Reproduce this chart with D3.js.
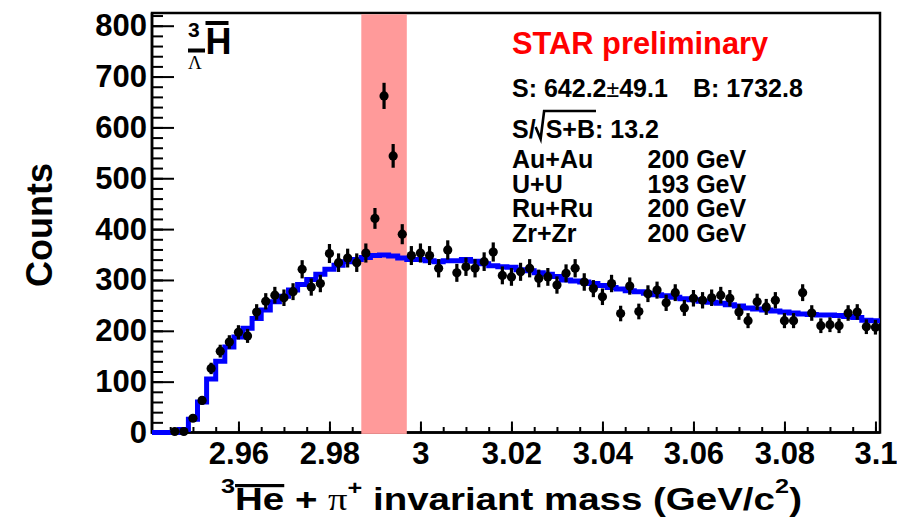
<!DOCTYPE html>
<html>
<head>
<meta charset="utf-8">
<script src="https://cdn.jsdelivr.net/npm/d3@7"></script>
<style>
  html, body { margin: 0; padding: 0; background: #fff; }
  svg { display: block; font-family: "Liberation Sans", Arial, Helvetica, sans-serif; }
  svg text { white-space: pre; }
</style>
</head>
<body>
<svg id="chart" width="897" height="517"></svg>
<script>
// ---- histogram: anti-hypertriton candidates, 2 MeV/c^2 bins ----
const histLow = 2.941, histHigh = 3.101;
const binCenters = [
  2.942, 2.944, 2.946, 2.948, 2.950, 2.952, 2.954, 2.956, 2.958, 2.960,
  2.962, 2.964, 2.966, 2.968, 2.970, 2.972, 2.974, 2.976, 2.978, 2.980,
  2.982, 2.984, 2.986, 2.988, 2.990, 2.992, 2.994, 2.996, 2.998, 3.000,
  3.002, 3.004, 3.006, 3.008, 3.010, 3.012, 3.014, 3.016, 3.018, 3.020,
  3.022, 3.024, 3.026, 3.028, 3.030, 3.032, 3.034, 3.036, 3.038, 3.040,
  3.042, 3.044, 3.046, 3.048, 3.050, 3.052, 3.054, 3.056, 3.058, 3.060,
  3.062, 3.064, 3.066, 3.068, 3.070, 3.072, 3.074, 3.076, 3.078, 3.080,
  3.082, 3.084, 3.086, 3.088, 3.090, 3.092, 3.094, 3.096, 3.098, 3.100
];
const binWidth = 0.002;

// same-event counts
const counts = [
  0, 0, 2, 2, 28, 63, 126, 160, 178, 197,
  190, 237, 258, 270, 265, 277, 321, 286, 293, 352,
  334, 343, 334, 353, 421, 662, 544, 390, 348, 353,
  348, 323, 359, 314, 326, 323, 336, 355, 309, 306,
  316, 323, 303, 306, 290, 313, 323, 296, 283, 267,
  293, 234, 288, 238, 273, 280, 255, 275, 245, 264,
  260, 265, 270, 264, 237, 220, 257, 247, 260, 220,
  220, 275, 235, 210, 212, 210, 235, 237, 208, 207
];

// normalised combinatorial background
const background = [
  0, 0, 0, 6, 26, 60, 105, 140, 168, 188,
  205, 224, 241, 257, 268, 280, 291, 301, 311, 321,
  329, 336, 340, 344, 348, 349, 347, 343, 340, 340,
  338, 336, 338, 338, 340, 337, 332, 328, 326, 325,
  320, 318, 314, 311, 307, 300, 298, 296, 293, 289,
  285, 282, 279, 277, 274, 271, 269, 266, 263, 261,
  258, 256, 254, 251, 249, 245, 243, 241, 239, 237,
  235, 233, 232, 231, 231, 230, 228, 226, 221, 220
];

// signal integration window
const signalWindow = [2.987, 2.997];

// axis ticks
const yTicks = [0, 100, 200, 300, 400, 500, 600, 700, 800];
const yTickLabels = ["0", "100", "200", "300", "400", "500", "600", "700", "800"];
const xTicks = [2.96, 2.98, 3.00, 3.02, 3.04, 3.06, 3.08, 3.10];
const xTickLabels = ["2.96", "2.98", "3", "3.02", "3.04", "3.06", "3.08", "3.1"];
const yMax = 825;

// annotation text
const signalText = "642.2", signalErr = "49.1", bkgText = "1732.8", signifText = "13.2";
const systems = ["Au+Au", "U+U", "Ru+Ru", "Zr+Zr"];
const energies = ["200 GeV", "193 GeV", "200 GeV", "200 GeV"];

// ---- layout ----
const svg = d3.select("#chart");
const frame = { left: 152, right: 880, top: 13, bottom: 432.5 };

const x = d3.scaleLinear().domain([histLow, histHigh]).range([frame.left, frame.right]);
const y = d3.scaleLinear().domain([0, yMax]).range([frame.bottom, frame.top]);

// frame box
svg.append("rect")
  .attr("x", frame.left).attr("y", frame.top)
  .attr("width", frame.right - frame.left).attr("height", frame.bottom - frame.top)
  .attr("fill", "none").attr("stroke", "#000").attr("stroke-width", 2.5);

function styleAxis(sel, size) {
  sel.attr("font-family", null).attr("font-size", null);
  sel.select(".domain").remove();
  sel.selectAll("line").attr("stroke", "#000").attr("stroke-width", 2);
  sel.selectAll("text").attr("fill", "#000")
    .style("font-size", size + "px").style("font-weight", "bold");
}

// y axis: major + minor ticks pointing inward
svg.append("g").attr("transform", `translate(${frame.left},0)`)
  .call(d3.axisLeft(y).tickValues(d3.range(0, 821, 20)).tickSizeInner(-11).tickSizeOuter(0).tickFormat(""))
  .call(s => styleAxis(s, 31));
svg.append("g").attr("transform", `translate(${frame.left},0)`)
  .call(d3.axisLeft(y).tickValues(yTicks).tickSizeInner(-22).tickSizeOuter(0).tickPadding(5)
    .tickFormat((d, i) => yTickLabels[i]))
  .call(s => styleAxis(s, 31));

// x axis
svg.append("g").attr("transform", `translate(0,${frame.bottom})`)
  .call(d3.axisBottom(x).tickValues(d3.range(2.945, 3.1001, 0.005)).tickSizeInner(-5.5).tickSizeOuter(0).tickFormat(""))
  .call(s => styleAxis(s, 31));
svg.append("g").attr("transform", `translate(0,${frame.bottom})`)
  .call(d3.axisBottom(x).tickValues(xTicks).tickSizeInner(-11).tickSizeOuter(0).tickPadding(9)
    .tickFormat((d, i) => xTickLabels[i]))
  .call(s => styleAxis(s, 31));

// axis line overlay (left + bottom)
svg.append("path")
  .attr("d", `M${frame.left},${frame.top}V${frame.bottom}H${frame.right}`)
  .attr("fill", "none").attr("stroke", "#000").attr("stroke-width", 2.5);

// signal window band
svg.append("rect")
  .attr("x", x(signalWindow[0])).attr("width", x(signalWindow[1]) - x(signalWindow[0]))
  .attr("y", frame.top + 1.3).attr("height", frame.bottom + 1.4 - frame.top - 1.3)
  .attr("fill", "#ff9a9a");

// background histogram as steps
const stepPts = binCenters.map((c, i) => [c - binWidth / 2, background[i]]);
stepPts.push([binCenters[binCenters.length - 1] + binWidth / 2, background[background.length - 1]]);
svg.append("path")
  .attr("d", d3.line().x(d => x(d[0])).y(d => y(d[1])).curve(d3.curveStepAfter)(stepPts))
  .attr("fill", "none").attr("stroke", "#0000ff").attr("stroke-width", 5);

// data points with sqrt(N) errors
const pts = binCenters.map((c, i) => ({ c, n: counts[i] })).filter(d => d.n > 0);
const gp = svg.append("g");
gp.selectAll("line.err").data(pts).join("line")
  .attr("x1", d => x(d.c)).attr("x2", d => x(d.c))
  .attr("y1", d => y(d.n + Math.sqrt(d.n))).attr("y2", d => y(Math.max(0, d.n - Math.sqrt(d.n))))
  .attr("stroke", "#000").attr("stroke-width", 3.2);
gp.selectAll("circle").data(pts).join("circle")
  .attr("cx", d => x(d.c)).attr("cy", d => y(d.n)).attr("r", 4.6).attr("fill", "#000");

// sequential text runs (super/subscripts, overlines)
function textRun(g, x0, y0, parts) {
  let cx = x0;
  parts.forEach(p => {
    const t = g.append("text").attr("x", cx).attr("y", y0 + (p.dy || 0))
      .attr("fill", p.fill || "#000")
      .style("font-size", p.size + "px")
      .style("font-weight", p.weight || "bold")
      .style("font-family", p.family || null)
      .text(p.t);
    const w = t.node().getComputedTextLength();
    if (p.over) {
      g.append("rect").attr("x", cx + (p.over.dx || 0)).attr("y", y0 + p.over.dy)
        .attr("width", w - (p.over.dx || 0) + (p.over.extra || 0)).attr("height", p.over.h).attr("fill", "#000");
    }
    cx += w + (p.gap || 0);
  });
  return cx - x0;
}

// x-axis title, centred and widened to its span
const xt = svg.append("g");
const xtw = textRun(xt, 0, 510, [
  { t: "3", size: 21, dy: -17 },
  { t: "He", size: 32, over: { dy: -26, h: 3.2 } },
  { t: " + ", size: 32 },
  { t: "\u03c0", size: 32, weight: "normal", family: "'Liberation Serif', 'DejaVu Serif', serif" },
  { t: "+", size: 21, dy: -15 },
  { t: " invariant mass (GeV/c", size: 32 },
  { t: "2", size: 21, dy: -17 },
  { t: ")", size: 32 }
]);
const titleSpan = [221, 802];
const titleScale = (titleSpan[1] - titleSpan[0]) / xtw;
xt.attr("transform", `translate(${titleSpan[0]},0) scale(${titleScale},1)`);

// y-axis title
svg.append("text")
  .attr("transform", "translate(52,225) rotate(-90)")
  .attr("text-anchor", "middle")
  .style("font-size", "36px").style("font-weight", "bold")
  .text("Counts");

// particle label: anti-hypertriton
const pl = svg.append("g");
pl.append("text").attr("x", 188).attr("y", 36.5).style("font-size", "21px").style("font-weight", "bold").text("3");
pl.append("rect").attr("x", 188).attr("y", 48.5).attr("width", 17).attr("height", 4).attr("fill", "#000");
pl.append("text").attr("x", 188).attr("y", 68.5)
  .style("font-size", "19px").style("font-family", "'Liberation Serif', 'DejaVu Serif', serif")
  .text("\u039b");
pl.append("text").attr("x", 205.5).attr("y", 54).style("font-size", "36px").style("font-weight", "bold").text("H");
pl.append("rect").attr("x", 205.5).attr("y", 21).attr("width", 23).attr("height", 4).attr("fill", "#000");

// annotations
const ann = svg.append("g");
ann.append("text").attr("x", 512).attr("y", 54).attr("fill", "#ff0000")
  .style("font-size", "30.8px").style("font-weight", "bold").text("STAR preliminary");

textRun(ann, 512, 96.5, [
  { t: "S: " + signalText, size: 25 },
  { t: "\u00b1", size: 23, weight: "normal" },
  { t: signalErr, size: 25 }
]);
ann.append("text").attr("x", 693).attr("y", 96.5)
  .style("font-size", "25px").style("font-weight", "bold").text("B: " + bkgText);

// S/sqrt(S+B)
const sw = textRun(ann, 512, 137.5, [{ t: "S/", size: 25 }]);
const rx = 512 + sw;
ann.append("text").attr("x", rx + 10).attr("y", 137.5)
  .style("font-size", "25px").style("font-weight", "bold").text("S+B: " + signifText);
const sbw = ann.append("text").attr("x", -999).attr("y", -999)
  .style("font-size", "25px").style("font-weight", "bold").text("S+B");
const sbLen = sbw.node().getComputedTextLength();
sbw.remove();
ann.append("path")
  .attr("d", `M${rx},${127}L${rx + 5},${139}L${rx + 8.5},${111}H${rx + 10 + sbLen + 1}`)
  .attr("fill", "none").attr("stroke", "#000").attr("stroke-width", 2.6);

systems.forEach((s, i) => {
  const yy = 168 + i * 24.7;
  ann.append("text").attr("x", 512).attr("y", yy)
    .style("font-size", "25px").style("font-weight", "bold").text(s);
  ann.append("text").attr("x", 647.5).attr("y", yy)
    .style("font-size", "25px").style("font-weight", "bold").text(energies[i]);
});
</script>
</body>
</html>
